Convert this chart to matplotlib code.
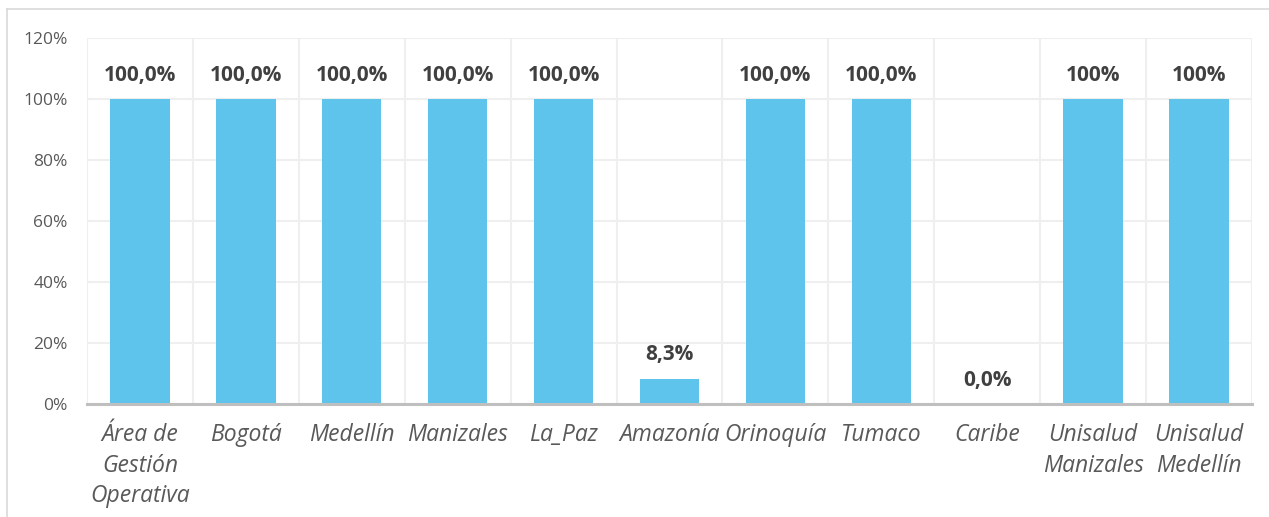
import numpy as np
import matplotlib
matplotlib.use("Agg")
import matplotlib.pyplot as plt
from matplotlib.lines import Line2D

plt.rcParams['font.family'] = ['Open Sans', 'DejaVu Sans']

# avance por sede
sedes = ["Área de\nGestión\nOperativa", "Bogotá", "Medellín", "Manizales", "La_Paz",
         "Amazonía", "Orinoquía", "Tumaco", "Caribe", "Unisalud\nManizales",
         "Unisalud\nMedellín"]
avance = [1.0, 1.0, 1.0, 1.0, 1.0, 0.083, 1.0, 1.0, 0.0, 1.0, 1.0]
decimales = [1, 1, 1, 1, 1, 1, 1, 1, 1, 0, 0]

bar_color = "#5EC4EC"
grid_color = "#EFEFEF"
text_gray = "#595959"
label_dark = "#404040"

fig = plt.figure(figsize=(12.69, 5.17), dpi=100)
ax = fig.add_axes([0.0686, 0.2186, 0.918, 0.7079])

x = np.arange(len(sedes))
ax.bar(x, avance, width=0.56, color=bar_color, zorder=3)

ax.set_xlim(-0.5, len(sedes) - 0.5)
ax.set_ylim(0, 1.2)
ax.set_yticks(np.arange(0, 1.21, 0.2))
ax.set_yticklabels([f"{int(round(v * 100))}%" for v in np.arange(0, 1.21, 0.2)],
                   fontsize=12.5, color=text_gray)

# lineas verticales entre categorias
ax.set_xticks(np.arange(-0.5, len(sedes), 1.0), minor=True)
ax.grid(axis="y", color=grid_color, linewidth=1.5, zorder=0)
ax.grid(axis="x", which="minor", color=grid_color, linewidth=1.5, zorder=0)

ax.set_xticks(x)
ax.set_xticklabels(sedes, fontsize=16.5, style="italic", color=text_gray,
                   linespacing=1.34, va="top")
ax.tick_params(axis="both", which="both", length=0)
ax.tick_params(axis="x", pad=14)
ax.tick_params(axis="y", pad=14)

for side in ["top", "right", "left"]:
    ax.spines[side].set_visible(False)
ax.spines["bottom"].set_color("#BFBFBF")
ax.spines["bottom"].set_linewidth(2.2)
ax.spines["bottom"].set_zorder(4)

for xi, v, d in zip(x, avance, decimales):
    txt = f"{v * 100:.{d}f}%".replace(".", ",")
    ax.annotate(txt, (xi, v), xytext=(0, 9.5), textcoords="offset points",
                ha="center", va="bottom", fontsize=15, fontweight="bold",
                color=label_dark)

# marco del grafico
fig.add_artist(Line2D([7 / 1269, 1.0], [1 - 9 / 517, 1 - 9 / 517],
                      transform=fig.transFigure, color="#D9D9D9", linewidth=1.2))
fig.add_artist(Line2D([7 / 1269, 7 / 1269], [0.0, 1 - 9 / 517],
                      transform=fig.transFigure, color="#D9D9D9", linewidth=1.2))

fig.savefig("out.png", dpi=100, facecolor="white")
